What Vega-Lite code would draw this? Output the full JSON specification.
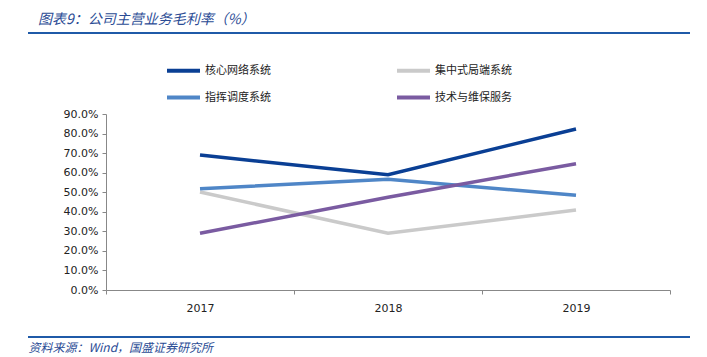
{
  "$schema": "https://vega.github.io/schema/vega-lite/v6.json",
  "autosize": "none",
  "width": 564,
  "height": 176,
  "padding": {"left": 106, "top": 114, "right": 37, "bottom": 67},
  "background": "white",
  "config": {"view": {"stroke": null}, "font": "DejaVu Sans"},
  "title": {
    "text": "图表9：公司主营业务毛利率（%）",
    "anchor": "start",
    "frame": "group",
    "dx": -68,
    "offset": 5,
    "font": "Noto Sans CJK SC",
    "fontSize": 14,
    "fontStyle": "italic",
    "fontWeight": "normal",
    "color": "#2B4C95"
  },
  "data": {
    "values": [
      {"year": "2017", "series": "核心网络系统", "value": 0.69},
      {"year": "2018", "series": "核心网络系统", "value": 0.59},
      {"year": "2019", "series": "核心网络系统", "value": 0.823},
      {"year": "2017", "series": "集中式局端系统", "value": 0.501},
      {"year": "2018", "series": "集中式局端系统", "value": 0.29},
      {"year": "2019", "series": "集中式局端系统", "value": 0.409},
      {"year": "2017", "series": "指挥调度系统", "value": 0.518},
      {"year": "2018", "series": "指挥调度系统", "value": 0.566},
      {"year": "2019", "series": "指挥调度系统", "value": 0.484},
      {"year": "2017", "series": "技术与维保服务", "value": 0.29},
      {"year": "2018", "series": "技术与维保服务", "value": 0.474},
      {"year": "2019", "series": "技术与维保服务", "value": 0.646}
    ]
  },
  "layer": [
    {
      "mark": {"type": "line", "strokeWidth": 3.5},
      "encoding": {
        "x": {
          "field": "year",
          "type": "ordinal",
          "scale": {"paddingInner": 0, "paddingOuter": 0},
          "axis": {
            "labelAngle": 0,
            "labelFont": "DejaVu Sans",
            "labelFontSize": 11,
            "labelColor": "#222222",
            "labelPadding": 8,
            "domainColor": "#888888",
            "tickColor": "#888888",
            "tickBand": "extent",
            "tickSize": 4,
            "ticks": true,
            "orient": "bottom",
            "title": "资料来源：Wind，国盛证券研究所",
            "titleFont": "Noto Sans CJK SC",
            "titleFontSize": 12,
            "titleFontStyle": "italic",
            "titleFontWeight": "normal",
            "titleColor": "#2B4C95",
            "titleAnchor": "start",
            "titleAlign": "left",
            "titleBaseline": "middle",
            "titleX": -78,
            "titleY": 57
          }
        },
        "y": {
          "field": "value",
          "type": "quantitative",
          "scale": {"domain": [0, 0.9], "nice": false},
          "axis": {
            "format": ".1%",
            "values": [0, 0.1, 0.2, 0.3, 0.4, 0.5, 0.6, 0.7, 0.8, 0.9],
            "grid": false,
            "title": null,
            "labelFont": "DejaVu Sans",
            "labelFontSize": 11,
            "labelColor": "#222222",
            "labelPadding": 4,
            "domainColor": "#888888",
            "tickColor": "#888888",
            "tickSize": 4
          }
        },
        "color": {
          "field": "series",
          "type": "nominal",
          "scale": {
            "domain": ["核心网络系统", "指挥调度系统", "集中式局端系统", "技术与维保服务"],
            "range": ["#0A3F94", "#4F86C7", "#CACACA", "#7A5BA1"]
          },
          "legend": {
            "orient": "none",
            "legendX": 59,
            "legendY": -62,
            "columns": 2,
            "columnPadding": 118,
            "rowPadding": -12,
            "title": null,
            "symbolType": "stroke",
            "symbolSize": 1089,
            "symbolStrokeWidth": 4,
            "labelFont": "Noto Sans CJK SC",
            "labelFontSize": 11,
            "labelColor": "#222222",
            "labelOffset": 3
          }
        }
      }
    },
    {
      "data": {"values": [{"k": "top"}]},
      "mark": {"type": "rule", "color": "#1F5AA8", "strokeWidth": 2},
      "encoding": {
        "x": {"value": -78},
        "x2": {"value": 584},
        "y": {"value": -81}
      }
    },
    {
      "data": {"values": [{"k": "bottom"}]},
      "mark": {"type": "rule", "color": "#1F5AA8", "strokeWidth": 2},
      "encoding": {
        "x": {"value": -78},
        "x2": {"value": 584},
        "y": {"value": 223}
      }
    }
  ]
}
